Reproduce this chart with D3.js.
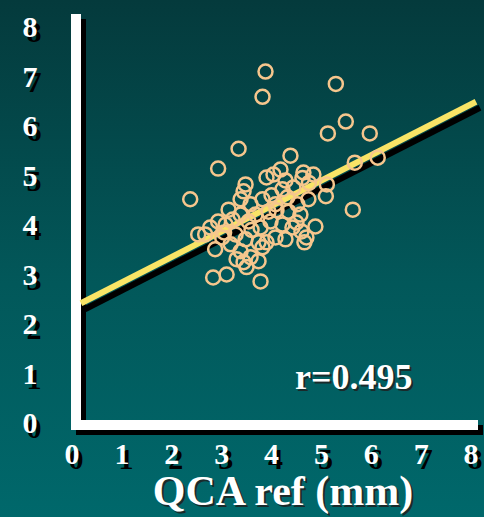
<!DOCTYPE html>
<html>
<head>
<meta charset="utf-8">
<script src="https://cdn.jsdelivr.net/npm/d3@7"></script>
<style>
  html, body { margin: 0; padding: 0; background: #024a4c; }
  svg { display: block; }
</style>
</head>
<body>
<svg id="chart" width="484" height="517"></svg>
<script>
// ---- data ----
const xTicks = [0, 1, 2, 3, 4, 5, 6, 7, 8];
const yTicks = [0, 1, 2, 3, 4, 5, 6, 7, 8];
const xTitle = "QCA ref (mm)";
const rLabel = "r=0.495";
const qcaRef = [3.88,3.82,5.29,5.49,5.13,5.97,3.34,2.93,4.38,5.67,6.13,2.37,5.63,3.48,3.44,3.90,4.04,4.18,4.64,4.84,
  5.11,5.09,4.88,4.66,4.60,2.83,3.10,3.78,3.50,2.53,2.87,4.32,4.44,4.22,4.52,4.74,4.58,4.34,4.08,3.94,
  3.82,3.68,3.98,4.22,3.78,3.54,3.38,3.22,3.08,2.93,2.77,2.67,3.01,3.28,3.48,3.18,3.38,3.58,3.82,3.74,
  3.30,4.08,4.28,4.42,3.14,3.58,3.38,4.70,4.00,4.10,3.60,3.90,4.50,4.75,3.05,3.44,3.74,4.62,4.28];
const measured = [7.10,6.59,6.85,6.09,5.85,5.85,5.54,5.14,5.40,5.26,5.36,4.52,4.31,4.82,4.68,4.96,5.02,5.12,5.06,5.02,
  4.82,4.58,3.97,3.65,3.87,2.94,3.00,2.86,3.15,3.81,3.51,4.56,4.76,4.72,4.42,4.52,4.21,4.27,4.42,4.27,
  4.52,4.21,4.07,4.01,3.95,4.07,4.21,4.11,4.01,4.07,3.95,3.81,3.75,3.81,3.71,3.61,3.47,3.35,3.55,3.27,
  3.31,3.75,3.71,3.95,4.31,4.42,4.52,3.75,4.60,4.30,3.90,3.65,4.05,4.85,3.85,3.25,3.65,4.95,4.90];
const fitX = [0.18, 8.1];
const fitY = [2.42, 6.49];

// ---- chart ----
const svg = d3.select("#chart");
const W = 484, H = 517;

const defs = svg.append("defs");
const grad = defs.append("linearGradient").attr("id", "bg").attr("x1", 0).attr("y1", 0).attr("x2", 0).attr("y2", 1);
grad.append("stop").attr("offset", "0%").attr("stop-color", "#043a3c");
grad.append("stop").attr("offset", "55%").attr("stop-color", "#02585a");
grad.append("stop").attr("offset", "100%").attr("stop-color", "#00686b");
svg.append("rect").attr("width", W).attr("height", H).attr("fill", "url(#bg)");

const x = d3.scaleLinear().domain([0, 8]).range([72, 471]);
const y = d3.scaleLinear().domain([0, 8]).range([423, 27]);

const serif = "'Liberation Serif', 'Times New Roman', 'DejaVu Serif', serif";

// axes (white with black drop shadow)
const axX0 = x(0) + 4, axY0 = y(0) + 2, axTop = 14, axRight = 478;
const axisPath = `M${axX0},${axTop} V${axY0} H${axRight}`;
svg.append("path").attr("d", axisPath).attr("transform", "translate(5,5)")
  .attr("fill", "none").attr("stroke", "#000").attr("stroke-width", 10).attr("stroke-linejoin", "miter");
svg.append("path").attr("d", axisPath)
  .attr("fill", "none").attr("stroke", "#fff").attr("stroke-width", 10).attr("stroke-linejoin", "miter");

// text with drop shadow (shadow drawn as a second text)
function shadowText(g, txt, tx, ty, size, anchor, dx, dy, shadowColor) {
  g.append("text").attr("x", tx + dx).attr("y", ty + dy).text(txt)
    .attr("font-family", serif).attr("font-weight", "bold").attr("font-size", size)
    .attr("text-anchor", anchor).attr("fill", shadowColor);
  g.append("text").attr("x", tx).attr("y", ty).text(txt)
    .attr("font-family", serif).attr("font-weight", "bold").attr("font-size", size)
    .attr("text-anchor", anchor).attr("fill", "#fff");
}
const gT = svg.append("g");
yTicks.forEach(v => shadowText(gT, String(v), 30, y(v) + 10, 30, "middle", 4, 5, "#000"));
xTicks.forEach(v => shadowText(gT, String(v), x(v), 464, 30, "middle", 4, 5, "#000"));

// regression line with shadow
const line = d3.line().x(d => x(d[0])).y(d => y(d[1]));
const fit = fitX.map((v, i) => [v, fitY[i]]);
svg.append("path").attr("d", line(fit)).attr("transform", "translate(4,6)")
  .attr("fill", "none").attr("stroke", "#000").attr("stroke-width", 6);
svg.append("path").attr("d", line(fit))
  .attr("fill", "none").attr("stroke", "#f9e466").attr("stroke-width", 6);

// scatter points
svg.append("g").selectAll("circle").data(qcaRef.map((v, i) => [v, measured[i]])).join("circle")
  .attr("cx", d => x(d[0])).attr("cy", d => y(d[1])).attr("r", 7)
  .attr("fill", "none").attr("stroke", "#f6c68d").attr("stroke-width", 2.5);

// labels
shadowText(svg, rLabel, 295, 389, 36, "start", 2, 2, "#1a2a2a");
shadowText(svg, xTitle, 283, 505, 42, "middle", 2, 2, "#1a2a2a");
</script>
</body>
</html>
